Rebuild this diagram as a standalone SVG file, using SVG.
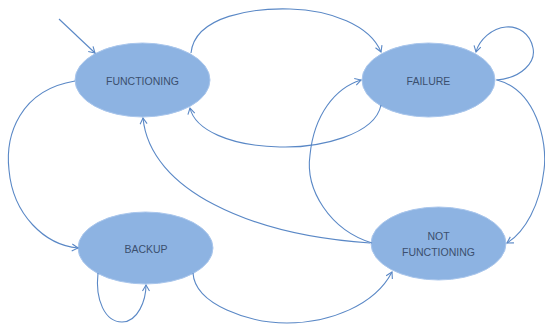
<svg xmlns="http://www.w3.org/2000/svg" width="545" height="325" viewBox="0 0 545 325">
<style>
.node ellipse{fill:#8DB3E2;stroke:#A9C6EC;stroke-width:1}
.node text{font-family:"Liberation Sans",Arial,sans-serif;font-size:10.5px;fill:#3B4F6E;text-anchor:middle}
.edges path{fill:none;stroke:#5A88C6;stroke-width:1.1;marker-end:url(#arr)}
</style>
<defs>
<marker id="arr" markerWidth="10" markerHeight="10" refX="7" refY="4" orient="auto" markerUnits="userSpaceOnUse">
<path d="M1,0.5 L7,4 L1,7.5" fill="none" stroke="#5A88C6" stroke-width="1.1"/>
</marker>
</defs>
<rect width="545" height="325" fill="#fff"/>
<g id="functioning" class="node"><ellipse cx="142.5" cy="80" rx="67.5" ry="37"/><text x="142.5" y="85">FUNCTIONING</text></g>
<g id="failure" class="node"><ellipse cx="428.5" cy="80" rx="66.5" ry="37"/><text x="428.5" y="85">FAILURE</text></g>
<g id="backup" class="node"><ellipse cx="145.5" cy="248" rx="67.5" ry="36"/><text x="146" y="253">BACKUP</text></g>
<g id="notfunctioning" class="node"><ellipse cx="438.5" cy="243.5" rx="67.5" ry="36.5"/><text x="438.5" y="240">NOT</text><text x="438.5" y="256">FUNCTIONING</text></g>
<g class="edges" id="connectors">
<path d="M59,19 L95,53"/>
<path d="M191,53 C195,15 255,8 290,9 C330,10 370,25 381,52"/>
<path d="M381,105 C375,135 320,148 280,147 C230,146 195,130 190,108"/>
<path d="M496,80 C522,78 536,62 533,48 C530,33 518,26 506,27 C492,28 479,40 476,52"/>
<path d="M75,81 C20,90 5,135 9,170 C13,215 45,245 78,248"/>
<path d="M98,273 C95,300 105,322 122,322 C138,322 146,300 146,285"/>
<path d="M193,273 C195,305 250,323 287,323 C330,323 375,305 392,272"/>
<path d="M370,243 C250,235 150,190 143,118"/>
<path d="M372,243 C330,230 305,190 310,155 C314,115 335,88 361,80"/>
<path d="M497,80 C535,90 548,140 544,170 C540,205 525,232 507,243"/>
</g>
</svg>
